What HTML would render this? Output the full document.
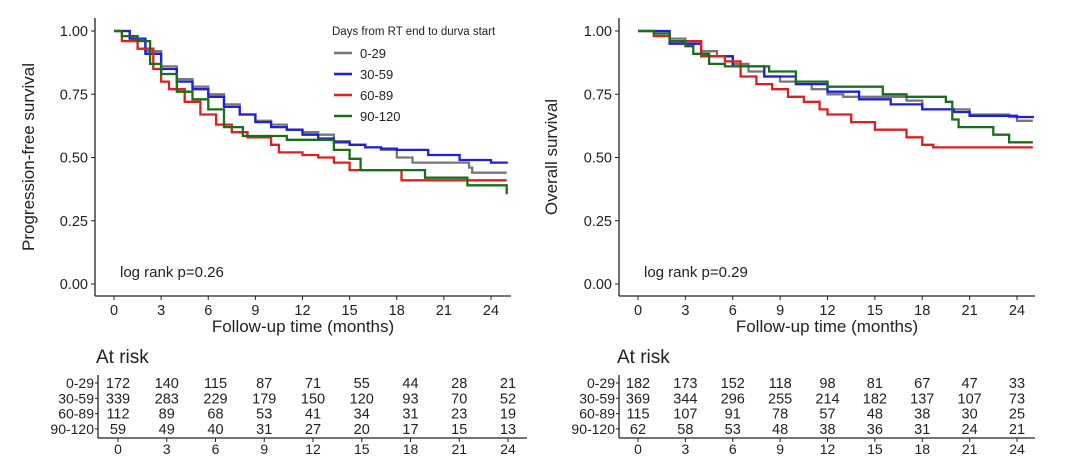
<!DOCTYPE html>
<html><head><meta charset="utf-8"><style>
html,body{margin:0;padding:0;background:#fff;}
svg{display:block;font-family:"Liberation Sans",Arial,sans-serif;}
</style></head><body>
<svg id="s" width="1080" height="465" viewBox="0 0 1080 465" xmlns="http://www.w3.org/2000/svg">
<rect width="1080" height="465" fill="#fff"/>
<g id="g"></g>
</svg>
<script>
const NS="http://www.w3.org/2000/svg",g=document.getElementById('g');
function el(t,a,txt){const e=document.createElementNS(NS,t);for(const k in a)e.setAttribute(k,a[k]);if(txt!==undefined)e.textContent=txt;g.appendChild(e);return e;}
function Y(s){return 284-253*s;}
function panel(ax,x0,x24,xend,ylabel,ylx,pv,data){
  const X=t=>x0+(x24-x0)*t/24;
  el('line',{x1:ax,y1:18,x2:ax,y2:296,stroke:'#222','stroke-width':1.3});
  el('line',{x1:ax,y1:296,x2:xend,y2:296,stroke:'#222','stroke-width':1.3});
  [0,0.25,0.5,0.75,1].forEach(v=>{el('line',{x1:ax-4,y1:Y(v),x2:ax,y2:Y(v),stroke:'#222'});
    el('text',{x:ax-7,y:Y(v)+5,'text-anchor':'end','font-size':14.5,fill:'#222'},v.toFixed(2));});
  for(let t=0;t<=24;t+=3){el('line',{x1:X(t),y1:296,x2:X(t),y2:300,stroke:'#222'});
    el('text',{x:X(t),y:315,'text-anchor':'middle','font-size':14.5,fill:'#222'},t);}
  el('text',{x:(ax+xend)/2,y:332,'text-anchor':'middle','font-size':17,fill:'#222'},'Follow-up time (months)');
  el('text',{x:ylx,y:157,'text-anchor':'middle','font-size':17,fill:'#222',transform:`rotate(-90 ${ylx} 157)`},ylabel);
  el('text',{x:X(0)+6,y:277,'font-size':15,fill:'#222'},pv);
  const cols=['#777','#1f1fdd','#dd1f1f','#1a6e1a'];
  data.forEach((pts,i)=>{let d=`M${X(pts[0][0])},${Y(pts[0][1])}`;
    for(let k=1;k<pts.length;k++){d+=`H${X(pts[k][0]).toFixed(1)}V${Y(pts[k][1]).toFixed(1)}`;}
    el('path',{d:d,fill:'none',stroke:cols[i],'stroke-width':2.3});});
}
panel(95,114,491,511,'Progression-free survival',34,'log rank p=0.26',[
[[0,1],[1,0.97],[2,0.92],[3,0.86],[4,0.81],[5,0.78],[6,0.75],[7,0.71],[8,0.67],[9,0.645],[10,0.63],[11,0.61],[12,0.6],[13,0.59],[14,0.565],[15,0.55],[16,0.54],[17,0.53],[18,0.5],[19,0.48],[22.6,0.46],[22.8,0.44],[25,0.44]],
[[0,1],[1,0.97],[2,0.91],[3,0.85],[4,0.8],[5,0.77],[6,0.74],[7,0.7],[8,0.67],[9,0.64],[10,0.62],[11,0.61],[12,0.59],[13,0.575],[14,0.56],[15,0.55],[16,0.54],[17,0.535],[18,0.53],[20,0.51],[22,0.49],[24,0.48],[25,0.475]],
[[0,1],[0.5,0.96],[1.5,0.93],[2.5,0.85],[3,0.8],[3.5,0.77],[4.5,0.72],[5.5,0.67],[6.5,0.63],[7.5,0.6],[8.5,0.58],[10,0.55],[10.5,0.52],[12,0.51],[13,0.5],[14,0.48],[15,0.45],[18,0.45],[18.3,0.41],[25,0.41]],
[[0,1],[0.5,0.98],[1.5,0.96],[2.3,0.87],[3,0.83],[4,0.76],[5,0.73],[6,0.69],[7,0.62],[8.2,0.585],[11,0.57],[14,0.53],[15,0.495],[15.7,0.45],[19.8,0.42],[22.5,0.39],[25,0.355]]]);
panel(619,638,1017,1035,'Overall survival',557,'log rank p=0.29',[
[[0,1],[1,0.99],[2,0.97],[3,0.95],[4,0.92],[5,0.9],[6,0.87],[7,0.84],[8,0.82],[9,0.8],[10,0.79],[11,0.77],[12,0.75],[13,0.74],[16,0.74],[17,0.725],[18,0.69],[20,0.69],[21,0.67],[23.5,0.66],[24,0.645],[25,0.645]],
[[0,1],[2,0.95],[4,0.9],[6,0.86],[8,0.82],[10,0.79],[12,0.76],[14,0.73],[16,0.71],[18,0.69],[20,0.68],[21,0.665],[24,0.66],[25,0.655]],
[[0,1],[1,0.98],[2,0.96],[4,0.9],[5.5,0.88],[6.5,0.82],[7.5,0.79],[8.5,0.77],[9.5,0.74],[10.5,0.72],[11.5,0.69],[12,0.67],[13.5,0.64],[15,0.61],[17,0.58],[18,0.55],[18.7,0.54],[25,0.54]],
[[0,1],[1,0.99],[2,0.96],[3,0.94],[3.5,0.91],[4.5,0.87],[5.5,0.86],[7,0.86],[8.3,0.84],[10,0.8],[12,0.78],[15.5,0.75],[17,0.74],[19.5,0.72],[19.9,0.65],[20.3,0.62],[22.5,0.59],[23.5,0.56],[25,0.56]]]);
// legend
el('text',{x:332,y:35,'font-size':11.5,fill:'#222'},'Days from RT end to durva start');
['0-29','30-59','60-89','90-120'].forEach((l,i)=>{const y=53+i*21;
  el('line',{x1:334,y1:y,x2:352,y2:y,stroke:['#777','#1f1fdd','#dd1f1f','#1a6e1a'][i],'stroke-width':2.5});
  el('text',{x:360,y:y+5,'font-size':13,fill:'#222'},l);});
// risk tables
function table(ax,x0,x24,xend,rows){
  const X=t=>x0+(x24-x0)*t/24;
  el('text',{x:ax-2,y:363,'font-size':19,fill:'#222'},'At risk');
  el('line',{x1:ax,y1:375,x2:ax,y2:438,stroke:'#222','stroke-width':1.3});
  el('line',{x1:ax,y1:438,x2:xend,y2:438,stroke:'#222','stroke-width':1.3});
  const labs=['0-29','30-59','60-89','90-120'];
  rows.forEach((r,i)=>{const y=383+i*15.3;
    el('line',{x1:ax-3,y1:y,x2:ax,y2:y,stroke:'#222'});
    el('text',{x:ax-4,y:y+5,'text-anchor':'end','font-size':14,fill:'#222'},labs[i]);
    r.forEach((v,j)=>el('text',{x:X(j*3),y:y+5,'text-anchor':'middle','font-size':14.5,fill:'#222'},v));});
  for(let t=0;t<=24;t+=3){el('line',{x1:X(t),y1:438,x2:X(t),y2:442,stroke:'#222'});
    el('text',{x:X(t),y:454,'text-anchor':'middle','font-size':14,fill:'#222'},t);}
}
table(98,118,508,527,[[172,140,115,87,71,55,44,28,21],[339,283,229,179,150,120,93,70,52],[112,89,68,53,41,34,31,23,19],[59,49,40,31,27,20,17,15,13]]);
table(619,638,1017,1035,[[182,173,152,118,98,81,67,47,33],[369,344,296,255,214,182,137,107,73],[115,107,91,78,57,48,38,30,25],[62,58,53,48,38,36,31,24,21]]);
</script>
</body></html>
